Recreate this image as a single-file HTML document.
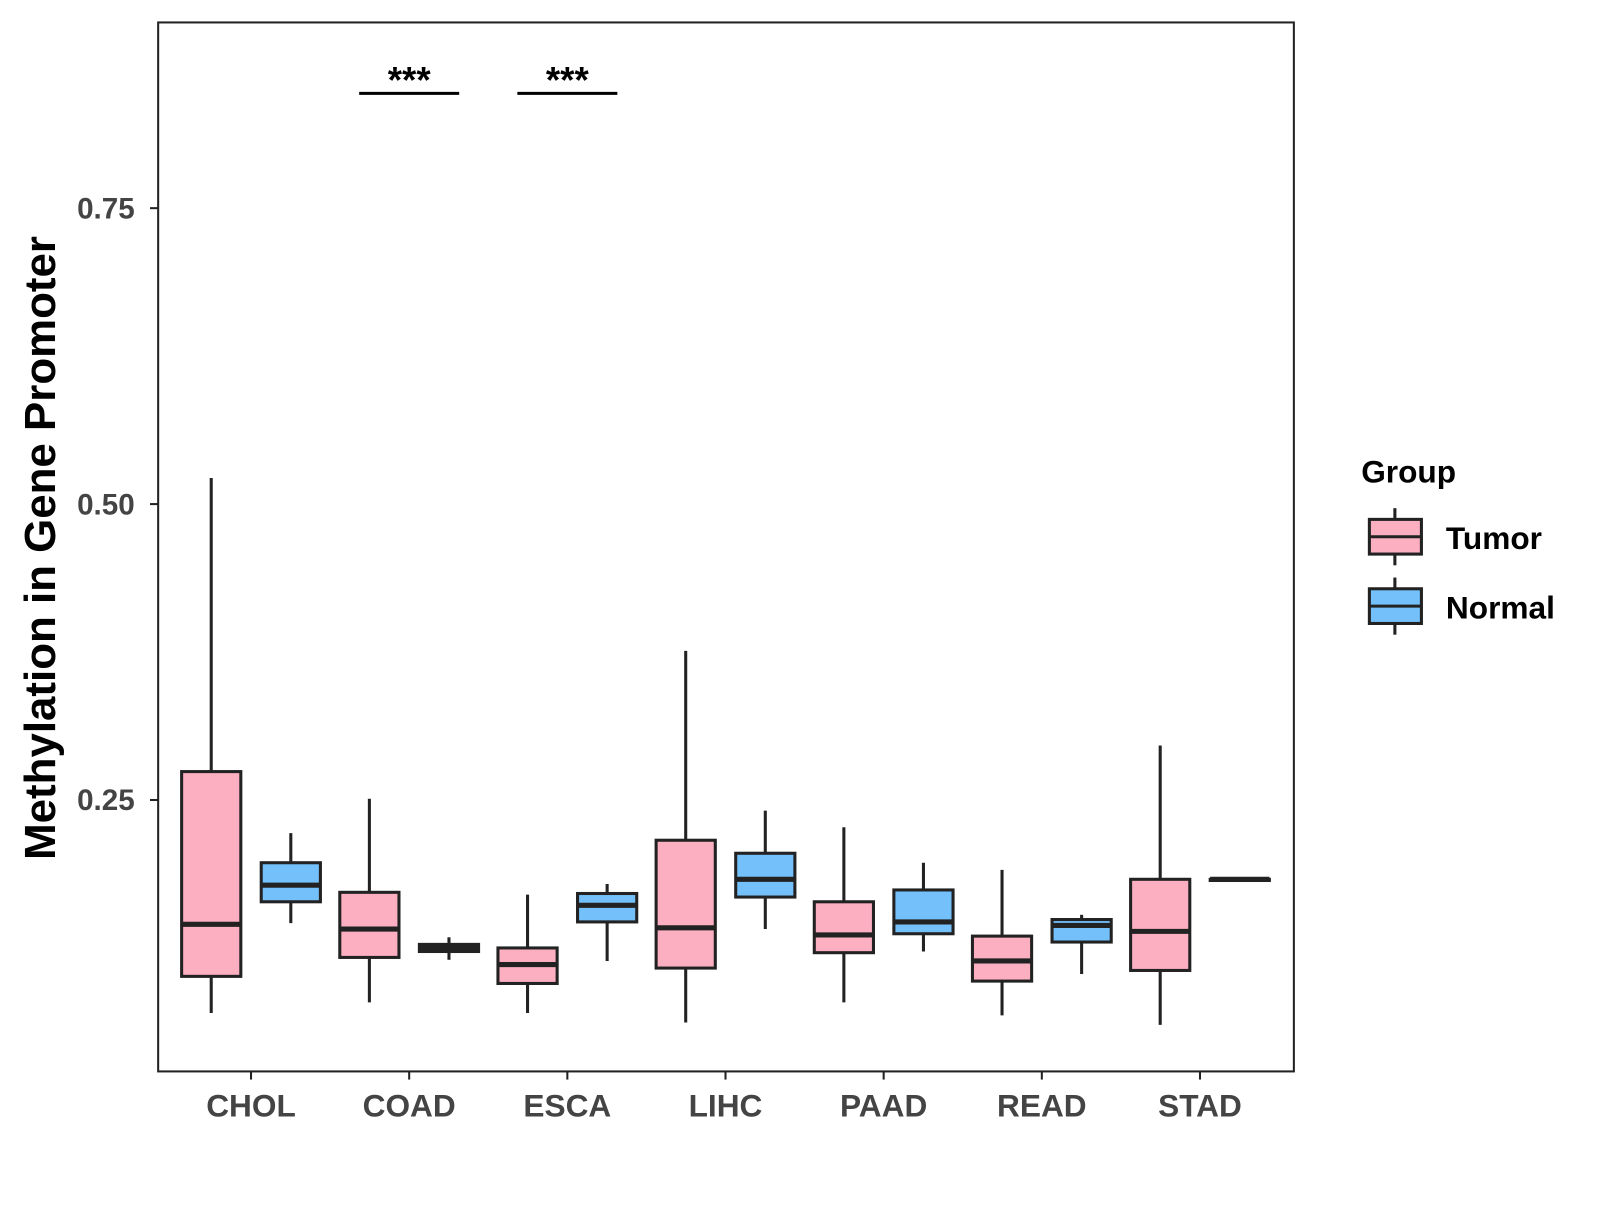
<!DOCTYPE html>
<html><head><meta charset="utf-8"><style>
html,body{margin:0;padding:0;background:#fff;}
svg text{font-family:"Liberation Sans",Arial,sans-serif;font-weight:bold;}
</style></head><body>
<svg id="chart" width="1600" height="1200" xmlns="http://www.w3.org/2000/svg">
<g transform="scale(1.0204)">
<rect x="155" y="22" width="1113" height="1028" fill="#fff" stroke="#222" stroke-width="2"/>
<g id="marks"></g>
<text x="54" y="537" font-size="43" text-anchor="middle" transform="rotate(-90 54 537)" fill="#000">Methylation in Gene Promoter</text>
<g>
<text x="1334" y="473" font-size="31" fill="#000">Group</text>
<g>
<line x1="1367" y1="498" x2="1367" y2="554" stroke="#222" stroke-width="3"/>
<rect x="1342" y="509" width="51" height="34" fill="#FBAFC1" stroke="#222" stroke-width="3"/>
<line x1="1342" y1="526" x2="1393" y2="526" stroke="#222" stroke-width="3"/>
<text x="1417" y="538" font-size="31" fill="#000">Tumor</text></g>
<g>
<line x1="1367" y1="566" x2="1367" y2="622" stroke="#222" stroke-width="3"/>
<rect x="1342" y="577" width="51" height="34" fill="#74C0FA" stroke="#222" stroke-width="3"/>
<line x1="1342" y1="594" x2="1393" y2="594" stroke="#222" stroke-width="3"/>
<text x="1417" y="606" font-size="31" fill="#000">Normal</text></g>
</g>
</g>
</svg>
<script>
const categories=["CHOL","COAD","ESCA","LIHC","PAAD","READ","STAD"];
// [low, q1, median, q3, high]
const tumorStats=[[0.070,0.101,0.145,0.274,0.522],[0.079,0.117,0.141,0.172,0.251],[0.070,0.095,0.111,0.125,0.170],[0.062,0.108,0.142,0.216,0.376],[0.079,0.121,0.136,0.164,0.227],[0.068,0.097,0.114,0.135,0.191],[0.060,0.106,0.139,0.183,0.296]];
const normalStats=[[0.146,0.164,0.178,0.197,0.222],[0.115,0.122,0.125,0.128,0.134],[0.114,0.147,0.161,0.171,0.179],[0.141,0.168,0.183,0.205,0.241],[0.122,0.137,0.147,0.174,0.197],[0.103,0.130,0.144,0.149,0.153],[0.182,0.182,0.183,0.183,0.184]];
const yTicks=[0.25,0.50,0.75];
const yTickLabels=["0.25","0.50","0.75"];
const sigCategories=["COAD","ESCA"];
const sigLabels=["***","***"];
const sigLevel=0.847;
const NS="http://www.w3.org/2000/svg";
const g=document.getElementById('marks');
function yS(v){return 784+(0.25-v)*1160;}
function xS(i){return 246+i*155;}
function mk(t,a,p){const e=document.createElementNS(NS,t);for(const k in a)e.setAttribute(k,a[k]);(p||g).appendChild(e);return e;}
yTicks.forEach((t,i)=>{const y=yS(t);
const l=mk('line',{x1:147,x2:155,y1:y,y2:y,stroke:'#222','stroke-width':2});


const tx=mk('text',{x:132,y:y+10,'font-size':29,'text-anchor':'end',fill:'#444'});tx.textContent=yTickLabels[i];

});
categories.forEach((c,i)=>{const x=xS(i);
const l=mk('line',{x1:x,x2:x,y1:1050,y2:1058,stroke:'#222','stroke-width':2});


const tx=mk('text',{x:x,y:1094,'font-size':31,'text-anchor':'middle',fill:'#444'});tx.textContent=c;

});
function box(cx,s,fill,name){const grp=mk('g',{});


mk('line',{x1:cx,x2:cx,y1:yS(s[0]),y2:yS(s[4]),stroke:'#222','stroke-width':3},grp);
const h=Math.max(yS(s[1])-yS(s[3]),1);
mk('rect',{x:cx-29,y:yS(s[3]),width:58,height:h,fill:fill,stroke:'#222','stroke-width':3},grp);
mk('line',{x1:cx-29,x2:cx+29,y1:yS(s[2]),y2:yS(s[2]),stroke:'#222','stroke-width':5},grp);}
categories.forEach((c,i)=>{box(xS(i)-39,tumorStats[i],'#FBAFC1','box-tumor-'+c.toLowerCase());box(xS(i)+39,normalStats[i],'#74C0FA','box-normal-'+c.toLowerCase());});
sigCategories.forEach((c,k)=>{const i=categories.indexOf(c);const y=yS(sigLevel);
const l=mk('line',{x1:xS(i)-49,x2:xS(i)+49,y1:y,y2:y,stroke:'#000','stroke-width':3});


const t=mk('text',{x:xS(i),y:y-1,'font-size':36,'text-anchor':'middle',fill:'#000'});t.textContent=sigLabels[k];

});
</script>
</body></html>
